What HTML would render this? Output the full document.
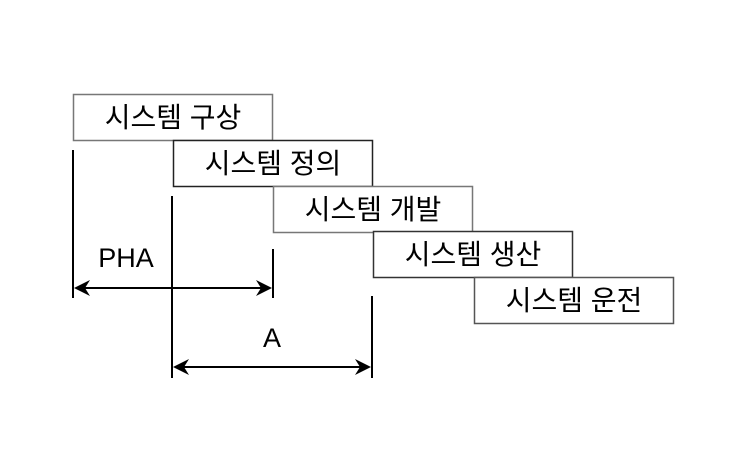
<!DOCTYPE html>
<html><head><meta charset="utf-8"><style>
body{margin:0;background:#fff}
svg text{font-family:"Liberation Sans","Noto Sans CJK KR",sans-serif;font-size:28px;fill:#000}
</style></head><body>
<svg width="741" height="456" viewBox="0 0 741 456" xmlns="http://www.w3.org/2000/svg">
<rect width="741" height="456" fill="#fff"/>
<g fill="#fff" stroke-width="1.5">
<rect x="73.5" y="94.5" width="199" height="46" stroke="#777"/>
<rect x="173.5" y="140.5" width="199" height="46" stroke="#222"/>
<rect x="273.5" y="186.5" width="199" height="46" stroke="#777"/>
<rect x="373.5" y="231.5" width="199" height="46" stroke="#333"/>
<rect x="474.5" y="277.5" width="199" height="46" stroke="#555"/>
</g>
<g text-anchor="middle">
<text x="173" y="127">시스템 구상</text>
<text x="273" y="173">시스템 정의</text>
<text x="373" y="219">시스템 개발</text>
<text x="473" y="264">시스템 생산</text>
<text x="574" y="310">시스템 운전</text>
<text x="126" y="267" style="font-size:27px">PHA</text>
<text x="272" y="347" style="font-size:27px">A</text>
</g>
<g stroke="#000" stroke-width="2">
<line x1="73" y1="150" x2="73" y2="298"/>
<line x1="172" y1="196" x2="172" y2="378"/>
<line x1="273" y1="249" x2="273" y2="298"/>
<line x1="372" y1="296" x2="372" y2="378"/>
<line x1="76" y1="288" x2="270" y2="288"/>
<line x1="175" y1="367" x2="369" y2="367"/>
</g>
<g fill="#000">
<path d="M74,288 L90,280 L85,288 L90,296Z"/>
<path d="M272,288 L256,280 L261,288 L256,296Z"/>
<path d="M173,367 L189,359 L184,367 L189,375Z"/>
<path d="M371,367 L355,359 L360,367 L355,375Z"/>
</g>
</svg>
</body></html>
